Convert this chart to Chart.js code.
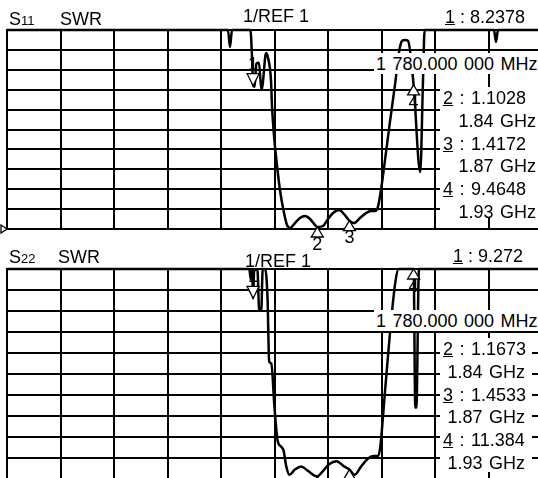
<!DOCTYPE html>
<html><head><meta charset="utf-8">
<script src="https://cdn.jsdelivr.net/npm/chart.js@4.4.1/dist/chart.umd.min.js"></script>
<style>
html,body{margin:0;padding:0;overflow:hidden;background:#fff;}
body{width:538px;height:478px;position:relative;font-family:"Liberation Sans",Arial,Helvetica,sans-serif;color:#000;}
canvas{position:absolute;left:0;}
.t{position:absolute;font-size:18px;line-height:20px;white-space:nowrap;}
.sub{font-size:13px;}
.box{position:absolute;background:#fff;font-size:18px;white-space:nowrap;overflow:hidden;word-spacing:1.5px;}
.ln{height:22.8px;line-height:22.8px;}
</style></head>
<body>
<canvas id="c1" width="545" height="255" style="top:0px"></canvas>
<canvas id="c2" width="545" height="250" style="top:240px"></canvas>
<div id="ov"></div>
<script>
// ---- axis settings ----
const freqStart = 1550, freqStop = 2050, freqStep = 50;   // MHz
const swrMin = 1, swrMax = 11, swrStep = 1;

// ---- S11 trace (MHz, SWR) ----
const s11Freq = [1550,1756.5,1758.4,1760.3,1777.5,1779.0,1780.0,1781.5,1783.0,1785.5,1787.8,1789.0,1792.1,1794.0,1796.7,1797.7,1799.5,1802.3,1805.1,1808.9,1811.7,1814.5,1819.2,1823.8,1828.5,1833.2,1837.9,1840.0,1845.3,1850.0,1854.7,1860.3,1865.0,1870.0,1874.3,1879.9,1885.5,1890.2,1893.9,1896.7,1899.5,1903.3,1907.9,1912.6,1916.4,1919.2,1922.0,1924.8,1930.0,1936.2,1938.8,1940.3,2005.1,2007.0,2008.9,2050];
const s11Swr  = [11,11,10.15,11,11,9.6,8.2,8.15,9.3,9.35,7.98,8.3,9.84,9.59,8.49,7.13,5.72,4.22,2.96,1.80,1.20,1.05,1.30,1.55,1.65,1.50,1.20,1.10,1.15,1.50,1.80,1.95,1.75,1.42,1.30,1.55,1.80,1.90,1.90,2.11,2.96,4.47,6.38,8.24,9.89,10.45,10.50,10.45,8.24,3.86,8.5,11,11,10.4,11,11];

// ---- S22 trace (MHz, SWR) ----
const s22Freq = [1550,1776.5,1777.8,1779.2,1780.0,1781.0,1784.0,1785.6,1787.6,1789.0,1791.2,1793.5,1795.0,1797.0,1800.0,1803.0,1806.0,1808.5,1811.0,1814.0,1819.0,1825.0,1831.0,1840.0,1844.0,1851.0,1858.0,1865.0,1870.0,1875.0,1881.0,1888.0,1893.0,1897.0,1899.0,1903.0,1908.0,1913.0,1916.0,1930.0,1931.6,1932.6,1935.0,2050];
const s22Swr  = [11,11,10.5,10.9,9.6,10.9,11,9.1,9.0,11,11,9.6,6.6,6.5,4.4,2.8,2.55,2.35,1.6,1.2,1.45,1.6,1.4,1.12,1.3,1.7,1.85,1.6,1.45,1.2,1.6,2.0,2.1,2.1,2.6,5.0,8.0,10.4,11,11,4.4,4.4,11,11];

// ---- markers ----
const markerNames = ['1','2','3','4'];
const markerFreq = [1780,1840,1870,1930];        // MHz
const s11MarkerSwr = [8.2378,1.1028,1.4172,9.4648];
const s22MarkerSwr = [9.272,1.1673,1.4533,11.384];

function traceAt(freq, swr, f){
  for (let i=0;i<freq.length-1;i++){
    if (f>=freq[i] && f<=freq[i+1]){
      const t=(f-freq[i])/(freq[i+1]-freq[i]);
      return swr[i]+(swr[i+1]-swr[i])*t;
    }
  }
  return swr[swr.length-1];
}
function clampSwr(v){ return Math.min(Math.max(v,swrMin),swrMax); }

function markerPlugin(freq, swr, showRef){
  return {id:'vnaMarkers', afterDatasetsDraw(chart){
    const ctx=chart.ctx, xs=chart.scales.x, ys=chart.scales.y, ca=chart.chartArea;
    ctx.save();
    ctx.lineWidth=1.3; ctx.strokeStyle='#000'; ctx.fillStyle='#fff';
    markerFreq.forEach((f,i)=>{
      const v=clampSwr(traceAt(freq,swr,f));
      const px=xs.getPixelForValue(f), py=ys.getPixelForValue(v);
      ctx.beginPath();
      if(i===0){ ctx.moveTo(px,py); ctx.lineTo(px-6,py-12); ctx.lineTo(px+6,py-12); }
      else { ctx.moveTo(px,py); ctx.lineTo(px-6,py+10); ctx.lineTo(px+6,py+10); }
      ctx.closePath(); ctx.fill(); ctx.stroke();
    });
    if (showRef){
      const ry=ys.getPixelForValue(swrMin);
      ctx.beginPath(); ctx.moveTo(ca.left-6,ry-4); ctx.lineTo(ca.left,ry); ctx.lineTo(ca.left-6,ry+4);
      ctx.closePath(); ctx.fill(); ctx.stroke();
    }
    ctx.restore();
  }};
}

function makeChart(id, freq, swr, padTop, padBottom, showRef){
  const axisCommon = {
    grid:{color:'#000', lineWidth:2, drawTicks:false},
    border:{color:'#000', width:2}
  };
  return new Chart(document.getElementById(id), {
    type:'line',
    data:{datasets:[{
      data:freq.map((f,i)=>({x:f,y:swr[i]})),
      borderColor:'#000', borderWidth:2.5, pointRadius:0, fill:false,
      cubicInterpolationMode:'monotone', clip:false
    }]},
    options:{
      responsive:false, animation:false, devicePixelRatio:1, events:[],
      layout:{padding:{left:7,right:3,top:padTop,bottom:padBottom}},
      plugins:{legend:{display:false}, tooltip:{enabled:false}, title:{display:false}},
      scales:{
        x:Object.assign({type:'linear', min:freqStart, max:freqStop, ticks:{display:false, stepSize:freqStep}}, axisCommon),
        y:Object.assign({type:'linear', min:swrMin, max:swrMax, ticks:{display:false, stepSize:swrStep}}, axisCommon)
      }
    },
    plugins:[markerPlugin(freq, swr, showRef)]
  });
}

const ch1 = makeChart('c1', s11Freq, s11Swr, 30, 26, true);
const ch2 = makeChart('c2', s22Freq, s22Swr, 29, 11, false);

// ---- text overlay ----
const ov = document.getElementById('ov');
function addText(html, left, baseline){
  const d=document.createElement('div'); d.className='t';
  d.style.left=left+'px'; d.style.top=(baseline-16.2)+'px'; d.innerHTML=html;
  ov.appendChild(d); return d;
}
function fmtMHz(f){
  const s=f.toFixed(6); const p=s.split('.');
  return p[0].replace(/\B(?=(\d{3})+(?!\d))/g,' ')+'.'+p[1].slice(0,3)+' '+p[1].slice(3)+' MHz';
}
function markerLabels(chart, offsetTop, freq, swr){
  markerFreq.forEach((f,i)=>{
    const v=clampSwr(traceAt(freq,swr,f));
    const px=chart.scales.x.getPixelForValue(f), py=chart.scales.y.getPixelForValue(v)+offsetTop;
    const base = i===0 ? py-16 : py+23;
    const d=document.createElement('div'); d.className='t';
    d.style.left=(px-10)+'px'; d.style.width='20px'; d.style.textAlign='center';
    d.style.top=(base-16.2)+'px'; d.textContent=markerNames[i];
    ov.appendChild(d);
  });
}
function readouts(vals, mhzTop, boxTop, boxHeight, boxWidth, freqPadRight){
  const m=document.createElement('div'); m.className='box';
  m.style.left='374px'; m.style.width='164px'; m.style.top=mhzTop+'px'; m.style.height='21px';
  m.style.lineHeight='23px'; m.style.paddingLeft='2px'; m.style.boxSizing='border-box';
  m.textContent=fmtMHz(markerFreq[0]);
  ov.appendChild(m);
  const b=document.createElement('div'); b.className='box';
  b.style.left='440px'; b.style.width=boxWidth+'px'; b.style.top=boxTop+'px'; b.style.height=boxHeight+'px';
  b.style.overflow='visible';
  let h='';
  for(let i=1;i<markerNames.length;i++){
    h+='<div class="ln" style="padding-left:3px"><u>'+markerNames[i]+'</u> : '+vals[i]+'</div>';
    h+='<div class="ln" style="text-align:right;padding-right:'+freqPadRight+'px">'+(markerFreq[i]/1000).toFixed(2)+' GHz</div>';
  }
  b.innerHTML=h; ov.appendChild(b);
}

// top panel texts
addText('S<span class="sub">11</span>', 9, 25);
addText('SWR', 60, 25);
addText('1/REF 1', 243, 22);
addText('<u>'+markerNames[0]+'</u> : '+s11MarkerSwr[0], 445, 23);
readouts(s11MarkerSwr, 52.5, 87, 130, 98, 2);
markerLabels(ch1, 0, s11Freq, s11Swr);

// bottom panel texts
addText('S<span class="sub">22</span>', 9, 263);
addText('SWR', 58, 263);
addText('1/REF 1', 245, 267);
addText('<u>'+markerNames[0]+'</u> : '+s22MarkerSwr[0], 453, 262);
readouts(s22MarkerSwr, 310, 338, 134, 92, 7);
markerLabels(ch2, 240, s22Freq, s22Swr);
</script>
</body></html>
